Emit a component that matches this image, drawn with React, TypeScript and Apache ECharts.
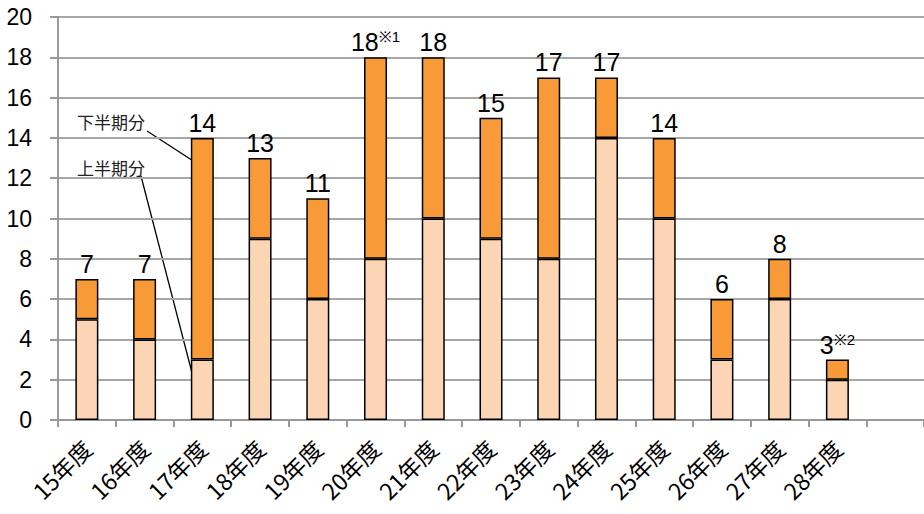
import React, { useEffect, useRef } from "react";
import * as echarts from "echarts";

const categories = ["15年度", "16年度", "17年度", "18年度", "19年度", "20年度", "21年度", "22年度", "23年度", "24年度", "25年度", "26年度", "27年度", "28年度", ""];
const firstHalf = [5, 4, 3, 9, 6, 8, 10, 9, 8, 14, 10, 3, 6, 2, null];
const secondHalf = [2, 3, 11, 4, 5, 10, 8, 6, 9, 3, 4, 3, 2, 1, null];
const totals = [7, 7, 14, 13, 11, 18, 18, 15, 17, 17, 14, 6, 8, 3, null];
const notes = ["", "", "", "", "", "※1", "", "", "", "", "", "", "", "※2", ""];
const yTicks = { min: 0, max: 20, interval: 2 };

export default function App() {
  const ref = useRef<HTMLDivElement>(null);
  useEffect(() => {
    if (!ref.current) return;
    const chart = echarts.init(ref.current, null, { renderer: "svg" });
    chart.setOption({
      animation: false,
      grid: { left: 58, top: 17, width: 870, height: 403, containLabel: false },
      xAxis: {
        type: "category",
        data: categories,
        boundaryGap: true,
        axisLine: { lineStyle: { color: "#999", width: 2 } },
        axisTick: { show: true, length: 7, lineStyle: { color: "#999", width: 2 } },
        axisLabel: {
          rotate: 45,
          interval: 0,
          margin: 24,
          fontSize: 23,
          color: "#000",
          fontFamily: "Noto Sans CJK JP",
        },
      },
      yAxis: {
        type: "value",
        min: yTicks.min,
        max: yTicks.max,
        interval: yTicks.interval,
        axisLine: { show: true, lineStyle: { color: "#999", width: 2 } },
        axisTick: { show: true, length: 8, lineStyle: { color: "#999", width: 2 } },
        splitLine: { lineStyle: { color: "#a6a6a6", width: 2 } },
        axisLabel: {
          fontSize: 23,
          color: "#000",
          margin: 26,
          fontFamily: "Liberation Sans",
        },
      },
      series: [
        {
          name: "上半期分",
          type: "bar",
          stack: "t",
          data: firstHalf,
          barWidth: 23,
          itemStyle: { color: "#FCD5B5", borderColor: "#000", borderWidth: 1.5 },
        },
        {
          name: "下半期分",
          type: "bar",
          stack: "t",
          data: secondHalf,
          barWidth: 23,
          itemStyle: { color: "#F99A38", borderColor: "#000", borderWidth: 1.5 },
          label: {
            show: true,
            position: "top",
            distance: 2,
            formatter: (p: any) => {
              const i = p.dataIndex;
              if (totals[i] == null) return "";
              return notes[i] ? `{n|${totals[i]}}{s|${notes[i]}}` : `{n|${totals[i]}}`;
            },
            rich: {
              n: { fontSize: 25, color: "#000", fontFamily: "Liberation Sans", lineHeight: 26 },
              s: { fontSize: 15, color: "#000", fontFamily: "Liberation Sans", lineHeight: 15, padding: [0, 0, 11, 0] },
            },
          },
        },
      ],
      graphic: [
        {
          type: "text",
          left: 77,
          top: 113,
          style: { text: "下半期分", fontSize: 17, fill: "#222", fontFamily: "Noto Sans CJK JP" },
        },
        {
          type: "text",
          left: 77,
          top: 159,
          style: { text: "上半期分", fontSize: 17, fill: "#222", fontFamily: "Noto Sans CJK JP" },
        },
        {
          type: "line",
          shape: { x1: 147, y1: 131, x2: 201, y2: 166 },
          style: { stroke: "#000", lineWidth: 1.3 },
        },
        {
          type: "line",
          shape: { x1: 141, y1: 176, x2: 198, y2: 396 },
          style: { stroke: "#000", lineWidth: 1.3 },
        },
      ],
    });
    return () => chart.dispose();
  }, []);
  return <div ref={ref} style={{ width: 924, height: 514, position: "absolute", left: 0, top: 0 }} />;
}
